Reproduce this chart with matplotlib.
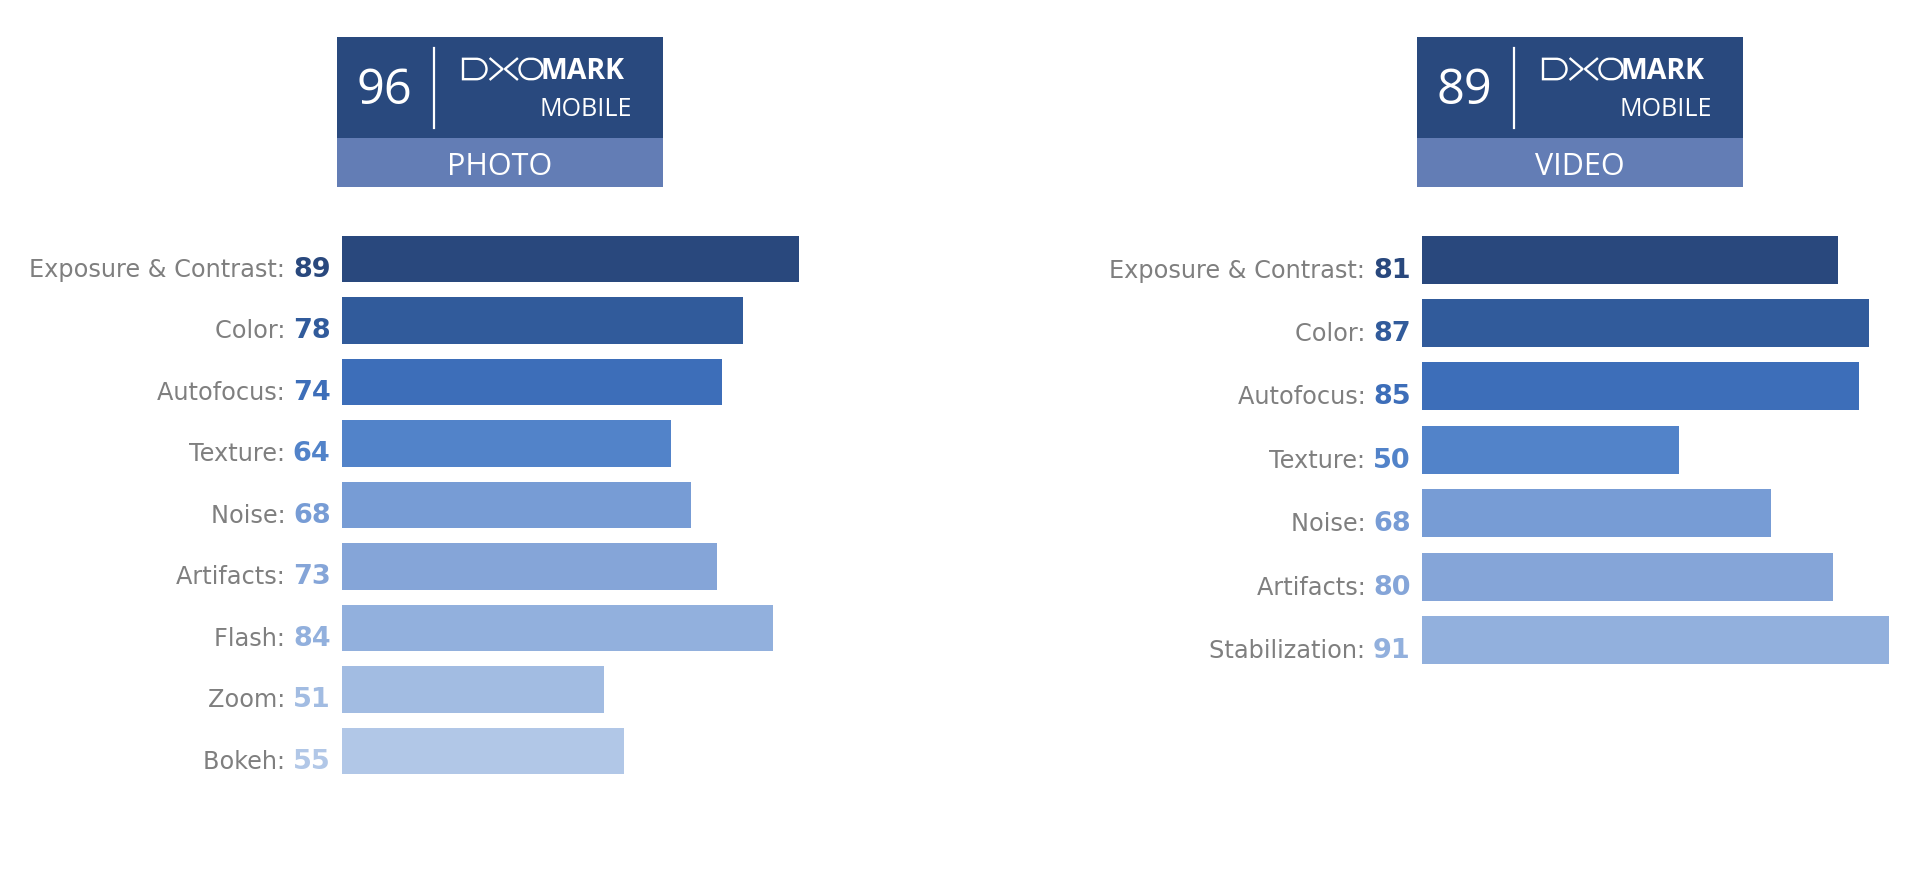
import matplotlib
matplotlib.use("Agg")
import matplotlib.pyplot as plt
from matplotlib.patches import Rectangle, PathPatch
from matplotlib.path import Path
from matplotlib.lines import Line2D

# ---------------- data ----------------
photo_categories = ["Exposure & Contrast", "Color", "Autofocus", "Texture", "Noise",
                    "Artifacts", "Flash", "Zoom", "Bokeh"]
photo_scores = [89, 78, 74, 64, 68, 73, 84, 51, 55]
photo_colors = ["#29487d", "#315b9b", "#3d6eb9", "#5283c9", "#779cd5",
                "#85a5d8", "#92b0dd", "#a2bce2", "#b1c7e7"]

video_categories = ["Exposure & Contrast", "Color", "Autofocus", "Texture", "Noise",
                    "Artifacts", "Stabilization"]
video_scores = [81, 87, 85, 50, 68, 80, 91]
video_colors = ["#29487d", "#315b9b", "#3d6eb9", "#5283c9", "#779cd5",
                "#85a5d8", "#92b0dd"]

photo_total = 96
video_total = 89
photo_title = "PHOTO"
video_title = "VIDEO"

# ---------------- figure ----------------
W, H = 1920, 880
fig = plt.figure(figsize=(W / 100, H / 100), dpi=100)
fig.patch.set_facecolor("white")

LABEL_GRAY = "#7f7f7f"
BADGE_DARK = "#29497e"
BADGE_LIGHT = "#637db5"


def fx(x):
    return x / W


def fy(y):
    return 1 - y / H


def P(x, y):
    return (fx(x), fy(y))


def make_panel(left_px, top_px, pitch_px, cats, scores, colors):
    n = len(cats)
    width_px = 514
    ax = fig.add_axes([fx(left_px), fy(top_px + n * pitch_px), width_px / W, n * pitch_px / H])
    ax.set_xlim(0, 100)
    ax.set_ylim(n - 0.5, -0.5)
    ax.axis("off")
    ypos = list(range(n))
    ax.barh(ypos, scores, height=0.76, color=colors, clip_on=False)
    renderer = fig.canvas.get_renderer()
    for i, (c, s, col) in enumerate(zip(cats, scores, colors)):
        num = ax.annotate(str(s), xy=(0, i), xytext=(-11 * 0.72, -18 * 0.72),
                          textcoords="offset points", ha="right", va="baseline",
                          fontsize=19.5, fontweight="bold", color=col,
                          family="DejaVu Sans")
        wpx = num.get_window_extent(renderer).width
        ax.annotate(c + ": ", xy=(0, i), xytext=(-(11 + wpx) * 0.72, -18 * 0.72),
                    textcoords="offset points", ha="right", va="baseline",
                    fontsize=17.3, color=LABEL_GRAY, family="DejaVu Sans")
    return ax


def rounded_path(l, r, top, bot, round_left):
    mid = (top + bot) / 2
    rad = (bot - top) / 2
    k = 0.5523 * rad
    verts = [P(l + (rad if round_left else 0), top), P(r - rad, top),
             P(r - rad + k, top), P(r, mid - k), P(r, mid),
             P(r, mid + k), P(r - rad + k, bot), P(r - rad, bot)]
    codes = [Path.MOVETO, Path.LINETO,
             Path.CURVE4, Path.CURVE4, Path.CURVE4,
             Path.CURVE4, Path.CURVE4, Path.CURVE4]
    if round_left:
        verts += [P(l + rad, bot),
                  P(l + rad - k, bot), P(l, mid + k), P(l, mid),
                  P(l, mid - k), P(l + rad - k, top), P(l + rad, top),
                  P(l + rad, top)]
        codes += [Path.LINETO,
                  Path.CURVE4, Path.CURVE4, Path.CURVE4,
                  Path.CURVE4, Path.CURVE4, Path.CURVE4,
                  Path.CLOSEPOLY]
    else:
        verts += [P(l, bot), P(l, top)]
        codes += [Path.LINETO, Path.CLOSEPOLY]
    return Path(verts, codes)


def logo_dxo(x0):
    lw = 1.7
    top, bot = 58.8, 79.2
    mid = (top + bot) / 2
    # D
    fig.patches.append(PathPatch(rounded_path(x0 + 126, x0 + 149.5, top, bot, False),
                                 transform=fig.transFigure, fill=False, ec="white",
                                 lw=lw, joinstyle="miter"))
    # > <
    c1l, c1r = x0 + 153.5, x0 + 165.5
    c2l, c2r = x0 + 168, x0 + 180
    fig.lines.append(Line2D([fx(c1l), fx(c1r), fx(c1l)], [fy(top), fy(mid), fy(bot)],
                            transform=fig.transFigure, color="white", lw=lw))
    fig.lines.append(Line2D([fx(c2r), fx(c2l), fx(c2r)], [fy(top), fy(mid), fy(bot)],
                            transform=fig.transFigure, color="white", lw=lw))
    # O
    fig.patches.append(PathPatch(rounded_path(x0 + 182.5, x0 + 205.5, top, bot, True),
                                 transform=fig.transFigure, fill=False, ec="white", lw=lw))


def badge(x0, total, title):
    fig.patches.append(Rectangle((fx(x0), fy(138)), 326 / W, 101 / H,
                                 transform=fig.transFigure, color=BADGE_DARK, lw=0))
    fig.patches.append(Rectangle((fx(x0), fy(187)), 326 / W, 49 / H,
                                 transform=fig.transFigure, color=BADGE_LIGHT, lw=0))
    fig.lines.append(Line2D([fx(x0 + 97), fx(x0 + 97)], [fy(48), fy(128)],
                            transform=fig.transFigure, color="white", lw=1.6))
    fig.text(fx(x0 + 47), fy(104), str(total), ha="center", va="baseline",
             fontsize=35, color="white", family="Open Sans")
    logo_dxo(x0)
    fig.text(fx(x0 + 287.5), fy(79.2), "MARK", ha="right", va="baseline",
             fontsize=20.5, color="white", family="Open Sans", fontweight="bold")
    fig.text(fx(x0 + 295), fy(116), "MOBILE", ha="right", va="baseline",
             fontsize=18, color="white", family="Open Sans")
    fig.text(fx(x0 + 163), fy(175), title, ha="center", va="baseline",
             fontsize=22, color="white", family="Open Sans")


badge(337, photo_total, photo_title)
badge(1417, video_total, video_title)

make_panel(341.6, 228.2, 61.5, photo_categories, photo_scores, photo_colors)
make_panel(1421.6, 227.9, 63.4, video_categories, video_scores, video_colors)

fig.savefig("out.png", dpi=100, facecolor="white")
